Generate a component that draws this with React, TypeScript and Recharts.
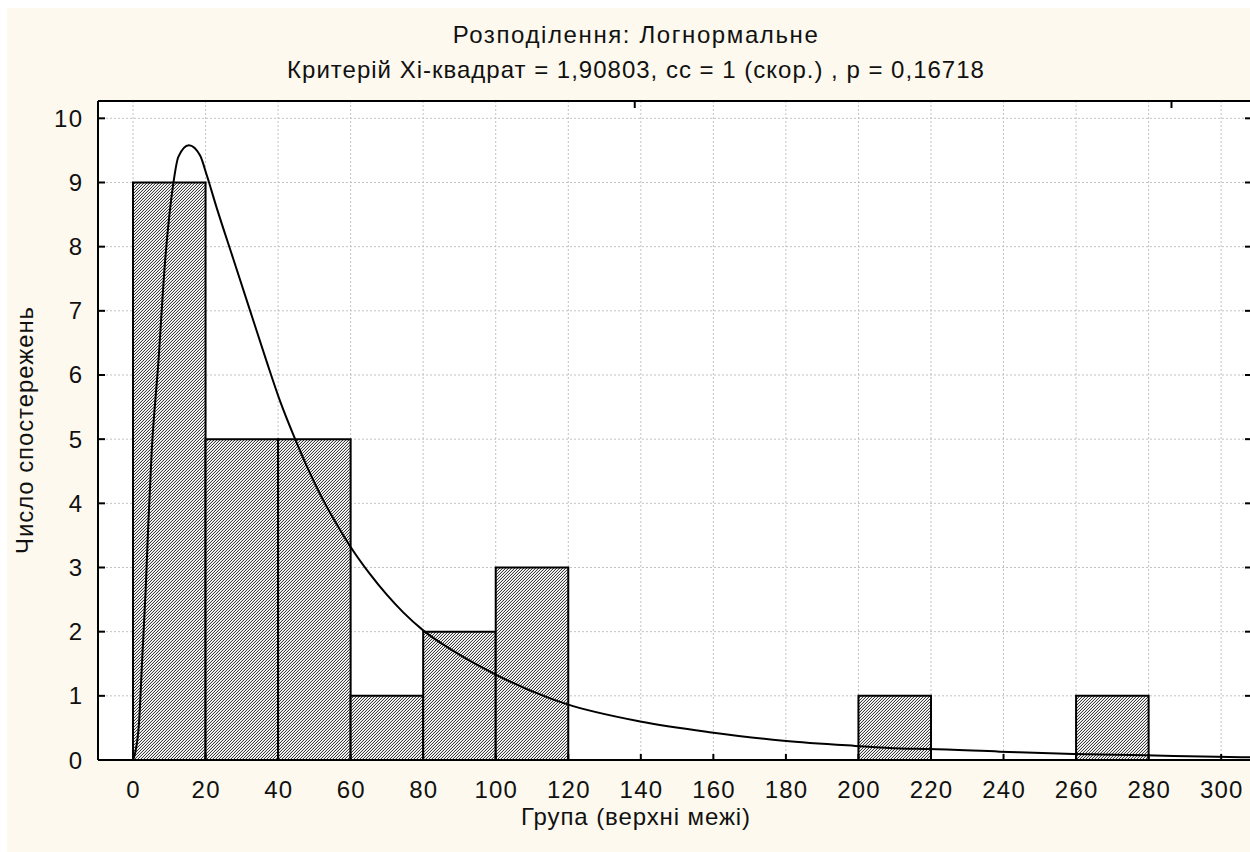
import React from 'react';
import { ComposedChart, Line, XAxis, YAxis, CartesianGrid, ReferenceArea } from 'recharts';

// histogram bins (upper limits step 20)
const binStarts = [0, 20, 40, 60, 80, 100, 200, 260];
const binEnds = [20, 40, 60, 80, 100, 120, 220, 280];
const binCounts = [9, 5, 5, 1, 2, 3, 1, 1];

// fitted lognormal curve
const curveX = [0, 0.55, 1.65, 2.57, 3.49, 4.23, 5.15, 7, 8.8, 11.1, 12.5, 15.4, 18.5, 20.3, 23.1, 27.7, 32.3, 36.9, 40.5, 44.7, 47.9, 51.6, 56.2, 60, 65.3, 69.9, 74.5, 80, 88.3, 96.6, 100, 115, 119.6, 139.8, 159.5, 179.3, 199.1, 211.5, 219.3, 239, 259.3, 279, 298.8, 310];
const curveY = [0, 0.1, 0.57, 1.61, 2.65, 3.69, 4.8, 6.2, 7.74, 8.98, 9.4, 9.58, 9.42, 9.12, 8.6, 7.8, 7.0, 6.2, 5.6, 5.0, 4.58, 4.14, 3.67, 3.32, 2.9, 2.58, 2.3, 2.02, 1.7, 1.43, 1.33, 0.96, 0.87, 0.6, 0.43, 0.3, 0.22, 0.18, 0.17, 0.13, 0.093, 0.073, 0.05, 0.04];

const xTicks = [0, 20, 40, 60, 80, 100, 120, 140, 160, 180, 200, 220, 240, 260, 280, 300];
const yTicks = [0, 1, 2, 3, 4, 5, 6, 7, 8, 9, 10];

const titleLine1 = 'Розподілення: Логнормальне';
const titleLine2 = 'Критерій Хі-квадрат = 1,90803, сс = 1 (скор.) , р = 0,16718';
const xLabel = 'Група (верхні межі)';
const yLabel = 'Число спостережень';

const FONT = '"Liberation Sans", Arial, sans-serif';
const X_DOMAIN: [number, number] = [-9.65, 308.5];
const Y_DOMAIN: [number, number] = [0, 10.27];

const chartData = curveX.map((x, i) => ({ x, y: curveY[i] }));

const BottomTick = (props: any) => {
  const { x, y, payload } = props;
  return (
    <g>
      <line x1={x} x2={x} y1={y} y2={y - 6} stroke="#000" strokeWidth={2} />
      <text x={x + 0.6} y={y + 38} textAnchor="middle" fontSize={24} letterSpacing={1.2} fontFamily={FONT} fill="#111">
        {payload.value}
      </text>
    </g>
  );
};

const TopTick = (props: any) => {
  const { x, y } = props;
  return <line x1={x} x2={x} y1={y} y2={y + 7} stroke="#000" strokeWidth={2} />;
};

const LeftTick = (props: any) => {
  const { x, y, payload } = props;
  // x here is axis x minus the margin of 16
  return (
    <g>
      <line x1={x + 16} x2={x + 23} y1={y} y2={y} stroke="#000" strokeWidth={2} />
      <text x={x + 1.2} y={y + 8.5} textAnchor="end" fontSize={24} letterSpacing={1.2} fontFamily={FONT} fill="#111">
        {payload.value}
      </text>
    </g>
  );
};

const RightTick = (props: any) => {
  const { x, y } = props;
  return <line x1={x - 7} x2={x} y1={y} y2={y} stroke="#000" strokeWidth={2} />;
};

const textStyle: React.CSSProperties = {
  position: 'absolute',
  left: 0,
  width: 1272,
  textAlign: 'center',
  fontFamily: FONT,
  fontSize: 24,
  color: '#111',
  lineHeight: '30px',
  whiteSpace: 'nowrap',
};

export default function App() {
  return (
    <div style={{ position: 'fixed', left: 0, top: 0, width: 1250, height: 852, overflow: 'hidden', background: '#fff' }}>
      <div style={{ position: 'absolute', left: 7, top: 8, right: 0, bottom: 0, background: '#FDF9EE' }} />

      <div style={{ ...textStyle, top: 20, letterSpacing: 1.6 }}>{titleLine1}</div>
      <div style={{ ...textStyle, top: 55, letterSpacing: 1.0 }}>{titleLine2}</div>

      <div style={{ position: 'absolute', left: 0, top: 0 }}>
        <ComposedChart
          width={1262}
          height={852}
          data={chartData}
          margin={{ top: 100, right: 0, bottom: 32, left: 0 }}
        >
          <defs>
            <pattern id="hatch" patternUnits="userSpaceOnUse" width="3" height="3">
              <rect width="3" height="3" fill="#fff" />
              <rect x="2" y="0" width="1" height="1" fill="#3c3c3c" />
              <rect x="1" y="1" width="1" height="1" fill="#3c3c3c" />
              <rect x="0" y="2" width="1" height="1" fill="#3c3c3c" />
              <rect x="1" y="0" width="1" height="1" fill="#dddddd" />
              <rect x="0" y="1" width="1" height="1" fill="#dddddd" />
              <rect x="2" y="2" width="1" height="1" fill="#dddddd" />
            </pattern>
          </defs>
          <CartesianGrid stroke="#c2c2c2" strokeDasharray="2 2" fill="#fff" />
          <XAxis
            dataKey="x"
            type="number"
            domain={X_DOMAIN}
            ticks={xTicks}
            allowDataOverflow
            height={60}
            tickSize={0}
            tickMargin={0}
            tickLine={false}
            axisLine={{ stroke: '#000', strokeWidth: 2 }}
            tick={BottomTick}
            interval={0}
          />
          <XAxis
            xAxisId="top"
            orientation="top"
            type="number"
            domain={X_DOMAIN}
            ticks={xTicks}
            allowDataOverflow
            height={1}
            tickSize={0}
            tickMargin={0}
            tickLine={false}
            axisLine={{ stroke: '#000', strokeWidth: 2 }}
            tick={TopTick}
            interval={0}
          />
          <YAxis
            type="number"
            domain={Y_DOMAIN}
            ticks={yTicks}
            allowDataOverflow
            width={98}
            tickSize={0}
            tickMargin={16}
            tickLine={false}
            axisLine={{ stroke: '#000', strokeWidth: 2 }}
            tick={LeftTick}
            interval={0}
          />
          <YAxis
            yAxisId="right"
            orientation="right"
            type="number"
            domain={Y_DOMAIN}
            ticks={yTicks}
            allowDataOverflow
            width={10}
            tickSize={0}
            tickMargin={0}
            tickLine={false}
            axisLine={{ stroke: '#000', strokeWidth: 2 }}
            tick={RightTick}
            interval={0}
          />
          {binStarts.map((s, i) => (
            <ReferenceArea
              key={s}
              x1={s}
              x2={binEnds[i]}
              y1={0}
              y2={binCounts[i]}
              fill="url(#hatch)"
              fillOpacity={1}
              stroke="#000"
              strokeWidth={2}
            />
          ))}
          <Line
            type="monotone"
            dataKey="y"
            stroke="#000"
            strokeWidth={2}
            dot={false}
            activeDot={false}
            isAnimationActive={false}
          />
        </ComposedChart>
      </div>

      <div style={{ ...textStyle, top: 802, letterSpacing: 0.9 }}>{xLabel}</div>
      <div
        style={{
          position: 'absolute',
          left: 25,
          top: 430,
          transform: 'translate(-50%, -50%) rotate(-90deg)',
          whiteSpace: 'nowrap',
          fontFamily: FONT,
          fontSize: 24,
          letterSpacing: 0.9,
          color: '#111',
          lineHeight: '30px',
        }}
      >
        {yLabel}
      </div>
    </div>
  );
}
